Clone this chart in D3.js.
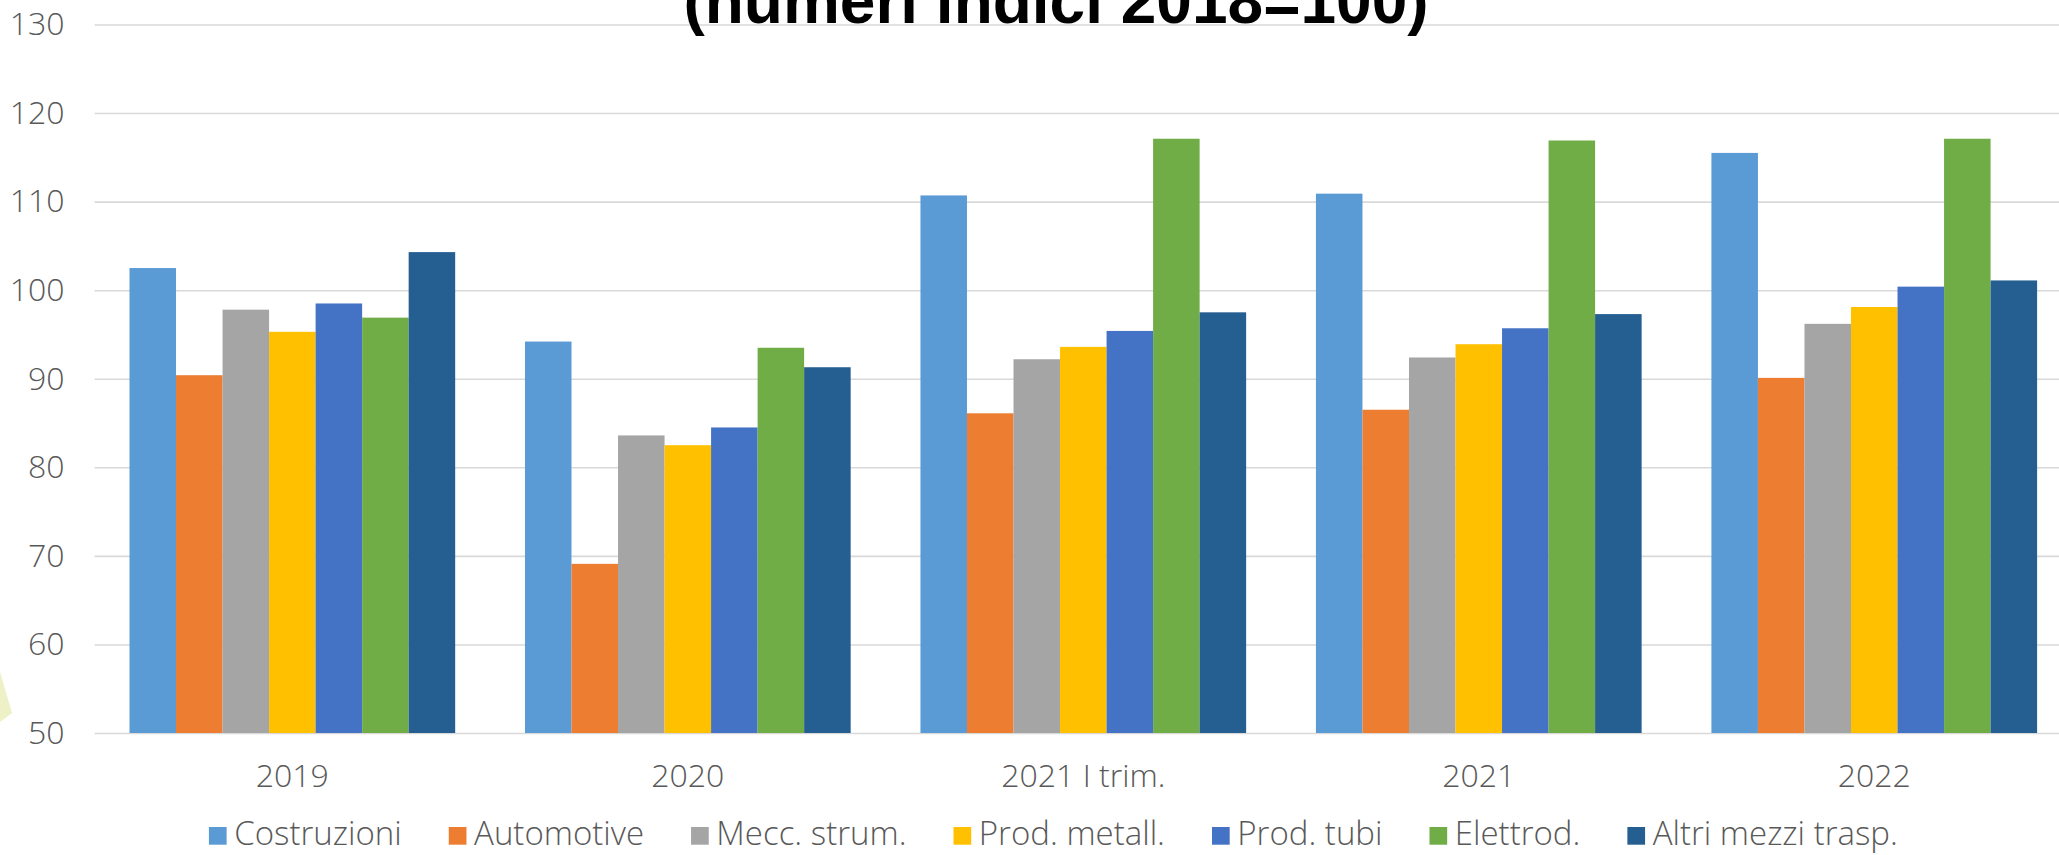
<!DOCTYPE html>
<html>
<head>
<meta charset="utf-8">
<script src="https://cdn.jsdelivr.net/npm/d3@7"></script>
<style>
  body { margin: 0; background: #fff; }
  svg { display: block; }
  .axis text { font-family: "Open Sans", "Liberation Sans", sans-serif; font-weight: 300; fill: #595959; }
  .legend text { font-family: "Open Sans", "Liberation Sans", sans-serif; font-weight: 300; fill: #595959; }
</style>
</head>
<body>
<div id="chart-area"></div>
<script>
// categories on the x axis
var categories = ["2019", "2020", "2021 I trim.", "2021", "2022"];

// series (sectors)
var series = ["Costruzioni", "Automotive", "Mecc. strum.", "Prod. metall.", "Prod. tubi", "Elettrod.", "Altri mezzi trasp."];
var colors = ["#5B9BD5", "#ED7D31", "#A5A5A5", "#FFC000", "#4472C4", "#70AD47", "#255E91"];

// values per series, one per category
var costruzioni = [102.5, 94.2, 110.7, 110.9, 115.5];
var automotive  = [90.4, 69.1, 86.1, 86.5, 90.1];
var meccStrum   = [97.8, 83.6, 92.2, 92.4, 96.2];
var prodMetall  = [95.3, 82.5, 93.6, 93.9, 98.1];
var prodTubi    = [98.5, 84.5, 95.4, 95.7, 100.4];
var elettrod    = [96.9, 93.5, 117.1, 116.9, 117.1];
var altriMezzi  = [104.3, 91.3, 97.5, 97.3, 101.1];

var seriesValues = [costruzioni, automotive, meccStrum, prodMetall, prodTubi, elettrod, altriMezzi];

// y ticks
var yTicks = [50, 60, 70, 80, 90, 100, 110, 120, 130];

var titleText = "(numeri indici 2018=100)";

var width = 2059, height = 855;

var svg = d3.select("#chart-area").append("svg")
  .attr("width", width)
  .attr("height", height);

svg.append("rect")
  .attr("width", width)
  .attr("height", height)
  .attr("fill", "#fff");

// decorative shape from the slide, left edge
svg.append("polygon")
  .attr("points", "0,672 12,713 0,722")
  .attr("fill", "#EEF0C6");

// scales
var x0 = d3.scaleBand()
  .domain(categories)
  .range([94.6, 2072])
  .padding(0);

var step = x0.bandwidth();

// excel style gap width 150%
var x1 = d3.scaleBand()
  .domain(series)
  .range([step * 0.75 / 8.5, step * 7.75 / 8.5])
  .padding(0);

var y = d3.scaleLinear()
  .domain([50, 130])
  .range([733, 24.5]);

// y axis with gridlines
var yAxis = d3.axisLeft(y)
  .tickValues(yTicks)
  .tickSize(-(2072 - 94.6))
  .tickPadding(30);

var yAxisGroup = svg.append("g")
  .attr("class", "axis y-axis")
  .attr("transform", "translate(94.6,0)")
  .call(yAxis);

yAxisGroup.select(".domain").remove();
yAxisGroup.selectAll("line")
  .attr("stroke", "#D9D9D9")
  .attr("stroke-width", 1.6);
yAxisGroup.selectAll("text")
  .attr("font-size", 32);

// bars
var groups = svg.selectAll(".group")
  .data(categories)
  .enter()
  .append("g")
  .attr("class", "group")
  .attr("transform", function(d) { return "translate(" + x0(d) + ",0)"; });

groups.selectAll("rect")
  .data(function(d, i) {
    return series.map(function(s, j) { return { key: s, value: seriesValues[j][i], color: colors[j] }; });
  })
  .enter()
  .append("rect")
  .attr("x", function(d) { return x1(d.key); })
  .attr("width", x1.bandwidth())
  .attr("y", function(d) { return y(d.value); })
  .attr("height", function(d) { return y(50) - y(d.value); })
  .attr("fill", function(d) { return d.color; });

// x axis labels
var xAxis = d3.axisBottom(x0).tickSize(0);

var xAxisGroup = svg.append("g")
  .attr("class", "axis x-axis")
  .attr("transform", "translate(0," + y(50) + ")")
  .call(xAxis);

xAxisGroup.select(".domain").remove();
xAxisGroup.selectAll("text")
  .attr("font-size", 32)
  .attr("dy", null)
  .attr("y", 54);

// title, partly cut off at the top as in the slide
svg.append("text")
  .attr("x", 1056)
  .attr("y", 23)
  .attr("text-anchor", "middle")
  .attr("font-family", "Liberation Sans, Arial, sans-serif")
  .attr("font-weight", "bold")
  .attr("font-size", 64)
  .attr("fill", "#000")
  .text(titleText);

// legend
var legend = svg.append("g").attr("class", "legend");

var items = legend.selectAll(".item")
  .data(series)
  .enter()
  .append("g")
  .attr("class", "item");

items.append("rect")
  .attr("width", 17.7)
  .attr("height", 17.7)
  .attr("y", 827)
  .attr("fill", function(d, i) { return colors[i]; });

items.append("text")
  .attr("x", 25.3)
  .attr("y", 845)
  .attr("font-size", 33)
  .text(function(d) { return d; });

// lay out legend items with measured text widths, centred
var offsets = [], cursor = 0;
items.each(function() {
  var w = d3.select(this).select("text").node().getComputedTextLength();
  offsets.push(cursor);
  cursor += 25.3 + w + 47;
});
var total = cursor - 47;
var startX = 1053.4 - total / 2;
items.attr("transform", function(d, i) { return "translate(" + (startX + offsets[i]) + ",0)"; });
</script>
</body>
</html>
